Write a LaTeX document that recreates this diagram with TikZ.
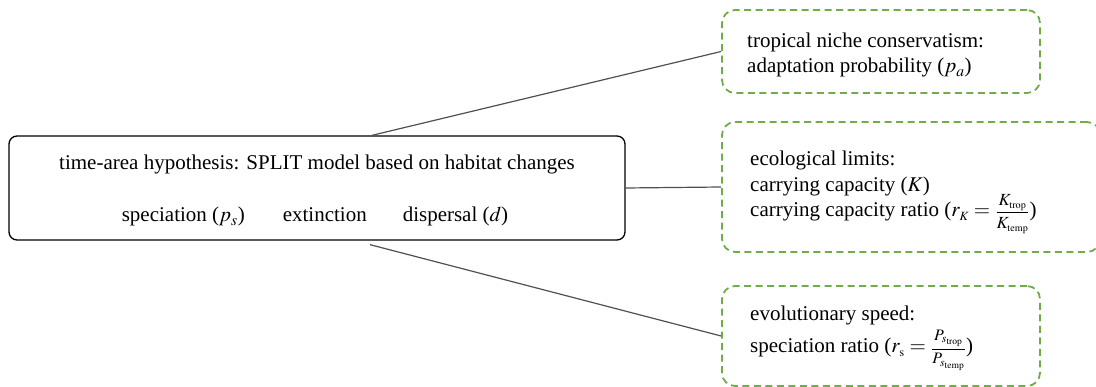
\documentclass[tikz,border=0pt]{standalone}
\usepackage{amsmath}
\usepackage{mathptmx}
\usepackage{fontspec}
\setmainfont{Liberation Serif}
\definecolor{boxgreen}{RGB}{112,173,71}
\definecolor{linkgray}{RGB}{80,80,80}
\begin{document}
\begin{tikzpicture}[x=1pt,y=-1pt,
  mainbox/.style={draw=black, line width=1.3pt, rounded corners=8pt, inner sep=0pt},
  greenbox/.style={draw=boxgreen, line width=1.8pt, dash pattern=on 7pt off 4.5pt, rounded corners=13pt, inner sep=0pt},
  link/.style={draw=linkgray, line width=1.2pt},
  txt/.style={anchor=base west, inner sep=0pt, font=\fontsize{21}{25}\selectfont},
  ctxt/.style={anchor=base, inner sep=0pt, font=\fontsize{21}{25}\selectfont}]
\useasboundingbox (0,0) rectangle (1096,387);
% boxes
\node[mainbox, minimum width=616pt, minimum height=104pt] (main) at (317,188) {};
\node[greenbox, minimum width=318pt, minimum height=83pt] (top) at (881,51.5) {};
\node[greenbox, minimum width=378pt, minimum height=130pt] (mid) at (911,187) {};
\node[greenbox, minimum width=318pt, minimum height=100pt] (bot) at (881,336) {};
% connectors
\draw[link] ([xshift=55pt]main.north) -- (top.west);
\draw[link] (main.east) -- (mid.west);
\draw[link] ([xshift=53pt,yshift=-4pt]main.south) -- (bot.west);
% main text
\node[ctxt] (m1) at (317,170) {time-area hypothesis: SPLIT model based on habitat changes};
\node[ctxt] (m2) at (315,222) {speciation ($p_s$)\hspace{38pt}extinction\hspace{36pt}dispersal ($d$)};
% top text
\node[txt] (t1) at (747,48) {tropical niche conservatism:};
\node[txt] (t2) at (747,73) {adaptation probability ($p_a$)};
% middle text
\node[txt] (e1) at (750,166) {ecological limits:};
\node[txt] (e2) at (750,192) {carrying capacity ($K$)};
\node[txt] (e3) at (750,217) {carrying capacity ratio ($r_{\scriptscriptstyle K} =$ {\fontsize{17}{18}\selectfont$\dfrac{K_{\scriptscriptstyle\mathrm{trop}}}{K_{\scriptscriptstyle\mathrm{temp}}}$})};
% bottom text
\node[txt] (b1) at (750,321) {evolutionary speed:};
\node[txt] (b2) at (750,353) {speciation ratio ($r_{\scriptscriptstyle\mathrm{s}} =$ {\fontsize{16}{17}\selectfont$\dfrac{P_{s_{\mathrm{trop}}}}{P_{s_{\mathrm{temp}}}}$})};
\end{tikzpicture}
\end{document}
